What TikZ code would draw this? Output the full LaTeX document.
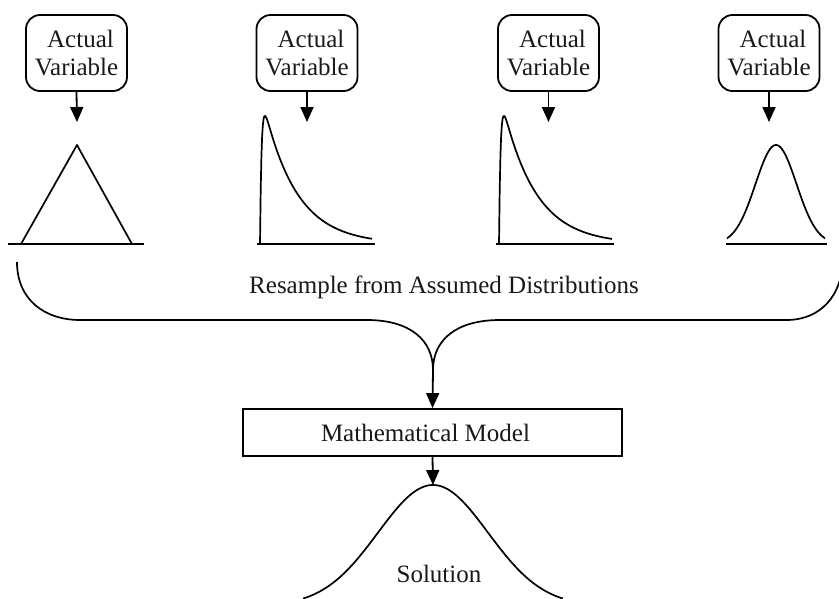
\documentclass[tikz,border=0pt]{standalone}
\usepackage{fontspec}
\setmainfont{Liberation Serif}
\usetikzlibrary{arrows.meta}
\begin{document}
\begin{tikzpicture}[x=1pt,y=-1pt,
  txt/.style={font=\fontsize{25}{28}\selectfont, text=black!90},
  avbox/.style={txt, draw, line width=1.8pt, rounded corners=14pt, minimum width=101pt, minimum height=76pt, inner sep=0pt, align=center},
  mbox/.style={txt, draw, line width=1.8pt, minimum width=379pt, minimum height=47pt, inner sep=0pt},
  arr/.style={line width=1.8pt, -{Triangle[width=13pt,length=15pt]}},
  curve/.style={line width=1.7pt, line join=round},
  base/.style={line width=1.7pt}]
\fill[white] (0,0) rectangle (839,598);
\useasboundingbox (0,0) rectangle (839,598);
\clip (0,0) rectangle (839,598);

% Actual Variable boxes
\node[avbox] (b1) at (76.5,53) {\hspace*{8pt}Actual\\Variable};
\node[avbox] (b2) at (307,53) {\hspace*{8pt}Actual\\Variable};
\node[avbox] (b3) at (548.5,53) {\hspace*{8pt}Actual\\Variable};
\node[avbox] (b4) at (769,53) {\hspace*{8pt}Actual\\Variable};

\coordinate (t1) at (77,122);
\coordinate (t2) at (307,122);
\coordinate (t3) at (548.5,122);
\coordinate (t4) at (769,122);
\draw[arr] (b1.south) -- (t1);
\draw[arr] (b2.south) -- (t2);
\draw[arr] (b3.south) -- (t3);
\draw[arr] (b4.south) -- (t4);

% triangular distribution
\draw[base] (8,244) -- (144,244);
\draw[curve] (21,244) -- (77,145) -- (132,244);

% skewed distributions
\draw[base] (257,244) -- (375,244);
\draw[curve] plot[domain=0:112, samples=160] ({260+\x},{244-130*exp(-(\x-6)/33)*(1-exp(-\x/1.6))});
\draw[base] (496,244) -- (614,244);
\draw[curve] plot[domain=0:113, samples=160] ({499+\x},{244-130*exp(-(\x-6)/33)*(1-exp(-\x/1.6))});

% normal distribution
\draw[base] (726,244) -- (827,244);
\draw[curve] plot[domain=-49:49, samples=120] ({776+\x},{244-99*exp(-(\x/10)*(\x/10)/8.405)});

% resample label
\node[txt, anchor=base] (rs) at (444,293) {Resample from Assumed Distributions};

% brace
\coordinate (cusp) at (433,370);
\draw[curve] (17,262) .. controls (17,300) and (45,320) .. (80,320) -- (367,320)
  .. controls (410,320) and (433,340) .. (cusp);
\draw[curve] (843,262) .. controls (840,305) and (812,320) .. (787,320) -- (500,320)
  .. controls (456,320) and (433,340) .. (cusp);

% mathematical model
\node[mbox] (mm) at (432.5,432.5) {Mathematical Model\hspace*{14pt}};
\draw[arr] (cusp) -- (mm.north);

% solution
\coordinate (peak) at (433,485);
\draw[arr] (mm.south) -- (peak);
\draw[curve] plot[domain=-130:130, samples=160] ({433+\x},{606-121*exp(-(\x/10)*(\x/10)/60.5)});
\node[txt, anchor=base] (sol) at (439,582) {Solution};
\end{tikzpicture}
\end{document}
